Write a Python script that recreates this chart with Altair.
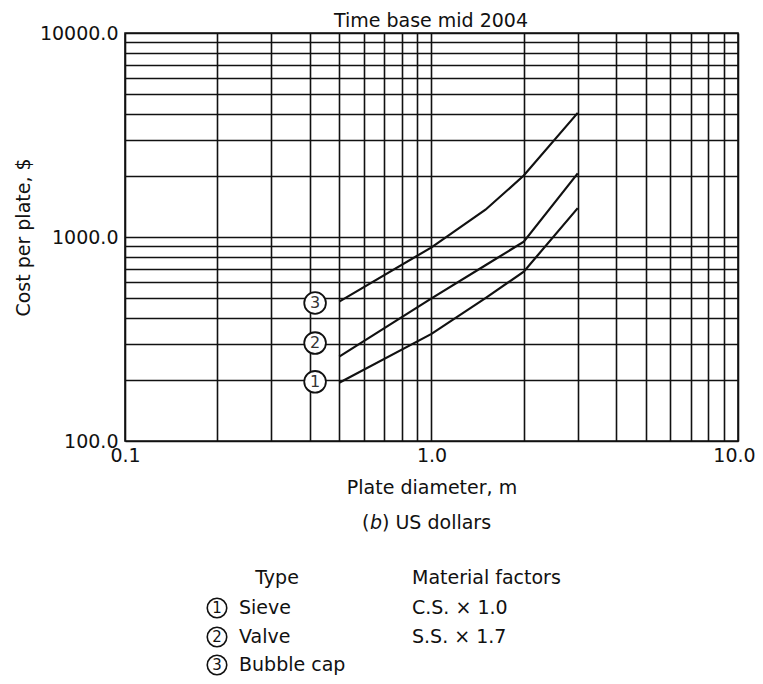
import altair as alt
import pandas as pd

# ---- data ----
diameters = [0.5, 1.0, 1.5, 2.0, 3.0]
sieve_cost = [193, 335, 502, 676, 1385]
valve_cost = [259, 500, 727, 948, 2050]
bubble_cost = [482, 890, 1360, 2000, 4060]

type_numbers = ["1", "2", "3"]
types = ["Sieve", "Valve", "Bubble cap"]
factors = ["C.S. \u00d7 1.0", "S.S. \u00d7 1.7"]

label_diam = [0.417, 0.417, 0.417]
label_cost = [195, 302, 475]

x_grid = [0.1, 0.2, 0.3, 0.4, 0.5, 0.6, 0.7, 0.8, 0.9,
          1, 2, 3, 4, 5, 6, 7, 8, 9, 10]
y_grid = [100, 200, 300, 400, 500, 600, 700, 800, 900,
          1000, 2000, 3000, 4000, 5000, 6000, 7000, 8000, 9000, 10000]

title_text = "Time base mid 2004"
x_title = "Plate diameter, m"
y_title = "Cost per plate, $"
caption_parts = ["(", "b", ") US dollars"]
type_header = "Type"
factor_header = "Material factors"

FONT = "DejaVu Sans"
FS = 19
INK = "#111111"

rows = []
for name, costs in zip(types, [sieve_cost, valve_cost, bubble_cost]):
    for d, c in zip(diameters, costs):
        rows.append({"type": name, "d": d, "c": c})
lines_df = pd.DataFrame(rows)
labels_df = pd.DataFrame({"n": type_numbers, "d": label_diam, "c": label_cost})

xscale = alt.Scale(type="log", domain=[0.1, 10], nice=False)
yscale = alt.Scale(type="log", domain=[100, 10000], nice=False)

xaxis = alt.Axis(values=x_grid, title=x_title, grid=True, ticks=False, domain=False,
                 labelExpr="indexof([0.1, 1, 10], datum.value) >= 0 ? format(datum.value, '.1f') : ''",
                 labelPadding=5, titlePadding=13, labelFlush=False, labelOverlap=False,
                 labelOffset={"condition": {"test": "datum.value == 10", "value": -4}, "value": 0})
yaxis = alt.Axis(values=y_grid, title=y_title, grid=True, ticks=False, domain=False,
                 labelExpr="indexof([100, 1000, 10000], datum.value) >= 0 ? format(datum.value, '.1f') : ''",
                 labelPadding=7, titlePadding=6, labelFlush=False, labelOverlap=False)

lines = alt.Chart(lines_df).mark_line(color=INK, strokeWidth=2.2, interpolate="linear").encode(
    x=alt.X("d:Q", scale=xscale, axis=xaxis),
    y=alt.Y("c:Q", scale=yscale, axis=yaxis),
    detail="type:N",
)

circles = alt.Chart(labels_df).mark_point(shape="circle", filled=False, fill="white",
                                          stroke=INK, strokeWidth=1.8, size=470, opacity=1,
                                          fillOpacity=1).encode(
    x=alt.X("d:Q", scale=xscale), y=alt.Y("c:Q", scale=yscale))
digits = alt.Chart(labels_df).mark_text(font=FONT, fontSize=16, color="#333").encode(
    x=alt.X("d:Q", scale=xscale), y=alt.Y("c:Q", scale=yscale), text="n:N")

layers = [lines, circles, digits]


def txt(s, x, y, align="left", style="normal"):
    return alt.Chart(pd.DataFrame({"t": [s]})).mark_text(
        font=FONT, fontSize=FS, align=align, baseline="middle", color=INK, fontStyle=style
    ).encode(x=alt.value(x), y=alt.value(y), text="t:N")


# chart title above the plot
layers.append(txt(title_text, 306, -12, align="center"))

# caption "(b) US dollars"
layers.append(txt(caption_parts[0], 237, 490))
layers.append(txt(caption_parts[1], 245, 490, style="italic"))
layers.append(txt(caption_parts[2], 257, 490))

# table header
layers.append(txt(type_header, 152, 545, align="center"))
layers.append(txt(factor_header, 287, 545))

row_y = [575, 604, 632]
for i, name in enumerate(types):
    num_df = pd.DataFrame({"n": [type_numbers[i]]})
    layers.append(alt.Chart(num_df).mark_point(shape="circle", filled=False, fill="white",
                                               stroke=INK, strokeWidth=1.6, size=380,
                                               opacity=1, fillOpacity=1).encode(
        x=alt.value(92), y=alt.value(row_y[i])))
    layers.append(alt.Chart(num_df).mark_text(font=FONT, fontSize=15, color=INK,
                                              baseline="middle").encode(
        x=alt.value(92), y=alt.value(row_y[i]), text="n:N"))
    layers.append(txt(name, 114, row_y[i]))
for i, f in enumerate(factors):
    layers.append(txt(f, 287, row_y[i]))

chart = alt.layer(*layers).properties(
    width=613, height=408,
    autosize=alt.AutoSizeParams(type="none"),
    padding={"left": 117, "top": 25, "right": 17, "bottom": 235},
).configure_axis(
    labelFont=FONT, labelFontSize=FS, labelColor=INK,
    titleFont=FONT, titleFontSize=FS, titleFontWeight="normal", titleColor=INK,
    gridColor=INK, gridWidth=1.6, gridOpacity=1,
).configure_view(stroke=INK, strokeWidth=1.6)

chart.save("out.html", embed_options={"renderer": "svg", "actions": False})
